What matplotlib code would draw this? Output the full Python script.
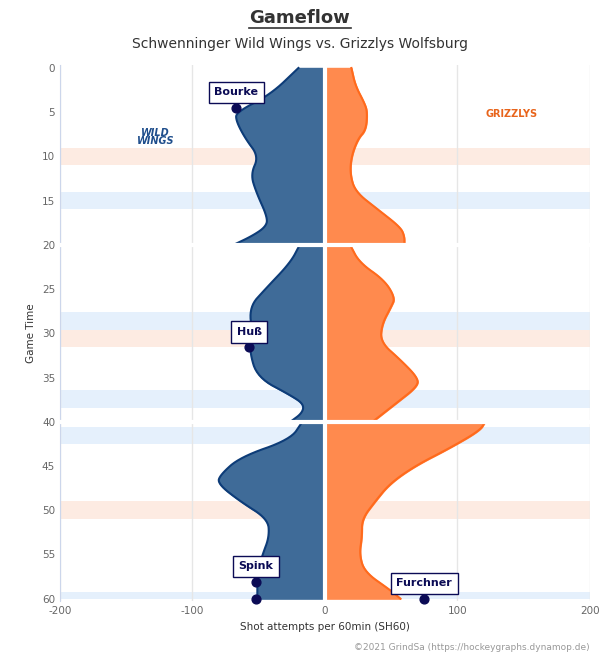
import matplotlib.pyplot as plt

plt.rcParams["axes.unicode_minus"] = False

# blue (Schwenningen) shot rate, per period: minutes and SH60 (negative side)
home_t = [[0, 3, 5, 6, 8, 10, 12, 14, 17, 18, 19, 20],
          [20, 22, 25, 27, 30, 32, 35, 37, 38, 39, 40],
          [40, 42, 44, 46, 47, 49, 51, 53, 55, 57, 60]]
home_v = [[20, 41, 67, 67, 60, 50, 56, 52, 43, 45, 55, 69],
          [19, 26, 45, 57, 55, 57, 51, 26, 16, 17, 26],
          [17, 26, 64, 79, 81, 64, 43, 42, 47, 51, 51]]
away_t = [[0, 2, 4, 5, 7, 8, 10, 12, 14, 16, 18, 19, 20],
          [20, 22, 24, 26, 27, 29, 31, 33, 35, 36, 38, 40],
          [40, 41, 43, 45, 47, 49, 51, 53, 55, 57, 59, 60]]
away_v = [[20, 23, 30, 32, 31, 25, 20, 19, 23, 40, 57, 60, 60],
          [19, 26, 45, 53, 50, 43, 42, 57, 70, 70, 53, 36],
          [121, 117, 94, 68, 49, 38, 28, 28, 26, 30, 49, 57]]

# power play bands (start, end, team)
bands = [(9, 11, "away"), (14, 16, "home"), (27.6, 29.6, "home"), (29.6, 31.6, "away"),
         (36.4, 38.4, "home"), (40.6, 42.5, "home"), (49, 51, "away"), (59.3, 60, "home")]

goal_names = ["Bourke", "Huß", "Spink", "", "Furchner"]
goal_x = [-67, -57, -52, -52, 75]
goal_t = [4.5, 31.6, 58.1, 60, 60]


def smooth(xs, ys, n=3):
    # chaikin corner cutting, only for the drawn outline
    for _ in range(n):
        nx, ny = [xs[0]], [ys[0]]
        for i in range(len(xs) - 1):
            nx += [0.75 * xs[i] + 0.25 * xs[i + 1], 0.25 * xs[i] + 0.75 * xs[i + 1]]
            ny += [0.75 * ys[i] + 0.25 * ys[i + 1], 0.25 * ys[i] + 0.75 * ys[i + 1]]
        nx.append(xs[-1]); ny.append(ys[-1])
        xs, ys = nx, ny
    return xs, ys


fig = plt.figure(figsize=(6, 6.6), dpi=100)
ax = fig.add_axes([0.1, 0.089, 0.883, 0.812])

for s, e, team in bands:
    ax.axhspan(s, e, color="#fdebe2" if team == "away" else "#e5f0fc", zorder=0, lw=0)

for i in range(3):
    hv, ht = smooth([-v for v in home_v[i]], home_t[i])
    ax.fill_betweenx(ht, hv, 0, color="#3f6b98", zorder=2)
    ax.plot(hv, ht, color="#0d3c78", lw=1.5, zorder=3)
    av, at = smooth(away_v[i], away_t[i])
    ax.fill_betweenx(at, 0, av, color="#ff8a4e", zorder=2)
    ax.plot(av, at, color="#ff6a1c", lw=1.5, zorder=3)

ax.axvline(0, color="white", lw=3, zorder=4)
for t in [20, 40]:
    ax.axhline(t, color="white", lw=3, zorder=4)

ax.scatter(goal_x, goal_t, s=40, color="#0b0b55", zorder=6, clip_on=False)
for n, x, t in zip(goal_names, goal_x, goal_t):
    if n:
        ax.annotate(n, (x, t), xytext=(0, 9), textcoords="offset points", ha="center",
                    fontsize=8, fontweight="bold", color="#0b0b55", zorder=7,
                    bbox=dict(boxstyle="square,pad=0.5", fc="white", ec="#0b0b55", lw=1))

# logo stand-ins
ax.text(-128, 7.8, "WILD\nWINGS", ha="center", va="center", fontsize=7, fontweight="bold",
        style="italic", color="#1f4e8c", linespacing=0.8)
ax.text(141, 5.2, "GRIZZLYS", ha="center", va="center", fontsize=7, fontweight="bold", color="#e8641b")

ax.set_xlim(-200, 200)
ax.set_ylim(60.3, -0.3)
ax.set_xticks([-200, -100, 0, 100, 200])
ax.set_yticks(range(0, 61, 5))
ax.tick_params(length=0, labelsize=7.5, colors="#666666")
ax.grid(axis="x", color="#e6e6e6", lw=1, zorder=1)
ax.set_axisbelow(True)
for sp in ["top", "right", "bottom"]:
    ax.spines[sp].set_visible(False)
ax.spines["left"].set_color("#ccd6eb")
ax.set_xlabel("Shot attempts per 60min (SH60)", fontsize=7.5, color="#333333")
ax.set_ylabel("Game Time", fontsize=7.5, color="#333333")

fig.text(0.5, 0.972, "Gameflow", ha="center", va="center", fontsize=13, fontweight="bold", color="#333333")
fig.lines.append(plt.Line2D([0.415, 0.585], [0.958, 0.958], transform=fig.transFigure, color="#333333", lw=1.2))
fig.text(0.5, 0.934, "Schwenninger Wild Wings vs. Grizzlys Wolfsburg", ha="center", va="center",
         fontsize=10, color="#333333")
fig.text(0.983, 0.012, "©2021 GrindSa (https://hockeygraphs.dynamop.de)", ha="right", va="bottom",
         fontsize=6.5, color="#999999")

fig.savefig("out.png", dpi=100)
